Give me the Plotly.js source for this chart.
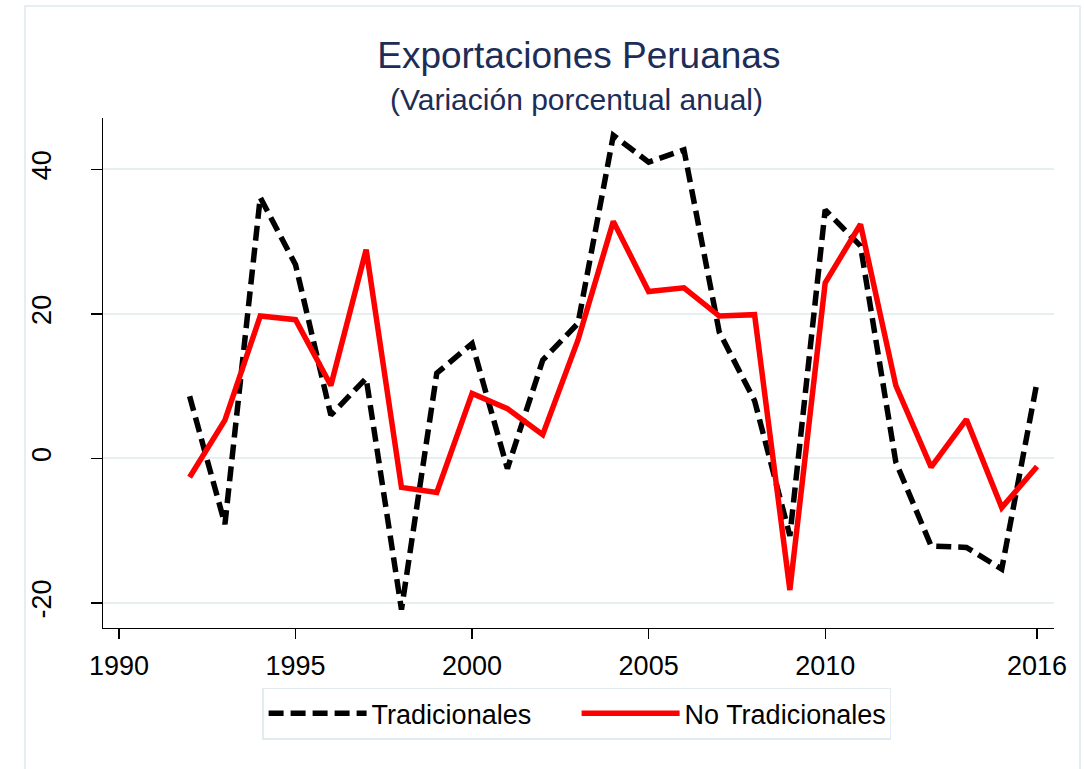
<!DOCTYPE html>
<html>
<head>
<meta charset="utf-8">
<script src="https://cdn.plot.ly/plotly-3.0.1.min.js"></script>
<style>html,body{margin:0;padding:0;background:#fff;}#chart{width:1084px;height:769px;}</style>
</head>
<body>
<div id="chart"></div>
<script>
const years = [1992,1993,1994,1995,1996,1997,1998,1999,2000,2001,2002,2003,2004,2005,2006,2007,2008,2009,2010,2011,2012,2013,2014,2015,2016];
const tradicionales = [8.6,-9.1,36.1,26.8,6.0,11.1,-20.9,11.8,15.9,-1.4,13.6,18.7,44.7,41.0,42.7,17.5,8.0,-10.7,34.4,29.4,-0.5,-12.1,-12.3,-15.3,10.6];
const noTradicionales = [-2.6,5.3,19.7,19.2,10.1,28.9,-4.0,-4.7,9.0,6.9,3.3,16.4,32.8,23.1,23.6,19.7,19.9,-18.2,24.3,32.4,10.1,-1.2,5.4,-6.8,-1.1];
const xTicks = [1990,1995,2000,2005,2010,2016];
const yTicks = [-20,0,20,40];
const seriesNames = ["Tradicionales","No Tradicionales"];
const titleText = "Exportaciones Peruanas";
const subtitleText = "(Variación porcentual anual)";

const FONT = "Liberation Sans, Arial, sans-serif";
const NAVY = '#1c2d57';
const traces = [
  {x: years, y: tradicionales, type: 'scatter', mode: 'lines', name: seriesNames[0],
   line: {color: '#000000', width: 5.5, dash: '15px,7px'}},
  {x: years, y: noTradicionales, type: 'scatter', mode: 'lines', name: seriesNames[1],
   line: {color: '#ff0000', width: 5.5}}
];
const layout = {
  width: 1084, height: 769,
  paper_bgcolor: '#ffffff', plot_bgcolor: '#ffffff',
  margin: {l: 103, r: 30, t: 118, b: 141},
  font: {family: FONT, color: '#000000', size: 27},
  title: {
    text: titleText,
    font: {family: FONT, size: 37, color: NAVY},
    x: 0.534, xanchor: 'center', xref: 'container',
    y: 0.928, yanchor: 'middle', yref: 'container'
  },
  annotations: [
    {text: subtitleText, xref: 'paper', yref: 'paper', x: 0.498, y: 1.037,
     xanchor: 'center', yanchor: 'middle', showarrow: false,
     font: {family: FONT, size: 30, color: NAVY}}
  ],
  xaxis: {
    range: [1989.547, 2016.48], tickmode: 'array', tickvals: xTicks, ticktext: xTicks.map(String),
    showgrid: false, zeroline: false, showline: true, linecolor: '#000', linewidth: 1.3,
    ticks: 'outside', ticklen: 10, tickwidth: 1.3, tickcolor: '#000',
    tickfont: {family: FONT, size: 27, color: '#000'}, ticklabelstandoff: 3
  },
  yaxis: {
    range: [-23.45, 47.1], tickmode: 'array', tickvals: yTicks, ticktext: yTicks.map(String),
    showgrid: true, gridcolor: '#e7eff1', gridwidth: 2, zeroline: false,
    showline: true, linecolor: '#000', linewidth: 1.3,
    ticks: 'outside', ticklen: 11, tickwidth: 1.3, tickcolor: '#000',
    tickangle: -90, tickfont: {family: FONT, size: 27, color: '#000'}, ticklabelstandoff: 29
  },
  legend: {
    orientation: 'h', x: 0.498, xanchor: 'center', y: -0.117, yanchor: 'top',
    bgcolor: '#ffffff', bordercolor: '#e3ebee', borderwidth: 1.5,
    font: {family: FONT, size: 27, color: '#000'}, itemwidth: 98, entrywidth: 200
  },
  shapes: [
    {type: 'rect', xref: 'paper', yref: 'paper', x0: -0.082, x1: 1.0273, y0: -0.3, y1: 1.2197,
     line: {color: '#e6eef1', width: 2}, fillcolor: 'rgba(0,0,0,0)', layer: 'below'}
  ],
  showlegend: true
};
Plotly.newPlot('chart', traces, layout, {staticPlot: true, displayModeBar: false});
</script>
</body>
</html>
